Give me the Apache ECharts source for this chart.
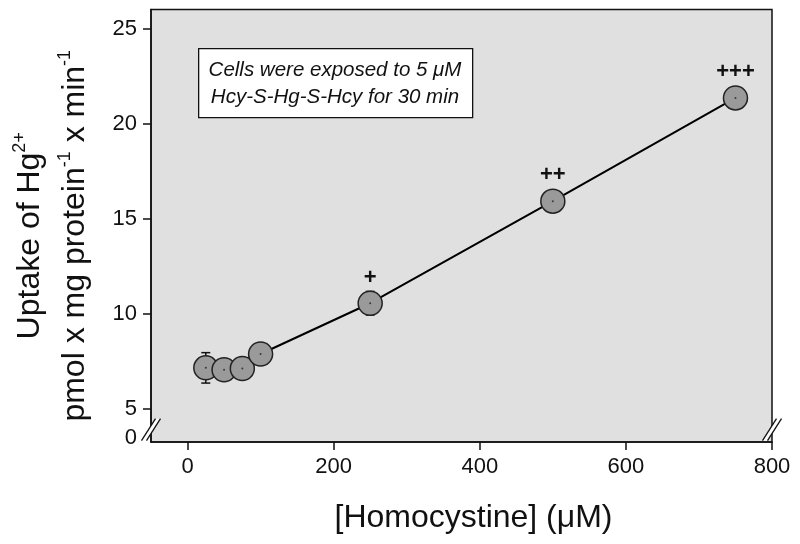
<!DOCTYPE html>
<html>
<head>
<meta charset="utf-8">
<script src="https://cdn.jsdelivr.net/npm/echarts@6/dist/echarts.min.js"></script>
<style>
  html, body { margin: 0; padding: 0; background: #ffffff; }
  #chart { width: 800px; height: 544px; }
</style>
</head>
<body>
<div id="chart"></div>
<script>
// ---- data ----
const xValues = [25, 50, 75, 100, 250, 500, 750];          // [Homocystine] (µM)
const yValues = [7.15, 7.05, 7.12, 7.88, 10.55, 15.92, 21.35]; // uptake
const yErrors = [0.8, 0.3, 0.3, 0.3, 0.62, 0.3, 0.3];
const sigMarks = ['', '', '', '', '+', '++', '+++'];
const xTicks = [0, 200, 400, 600, 800];
const yTicks = [5, 10, 15, 20, 25];
const yBreakLabel = '0';
const noteLines = ['Cells were exposed to 5 \u03bcM', 'Hcy-S-Hg-S-Hcy for 30 min'];

// ---- axis ranges / styling ----
const X_MIN = -50, X_MAX = 800;
const Y_MIN = 3.25, Y_MAX = 26;
const Y_BREAK_LABEL_AT = 3.45;
const Y_BREAK_MARK_AT = 3.9;
const FONT = '"Liberation Sans", Arial, sans-serif';

const points = xValues.map((x, i) => [x, yValues[i], yErrors[i], sigMarks[i]]);

const chart = echarts.init(document.getElementById('chart'), null, { renderer: 'canvas' });

const option = {
  backgroundColor: '#ffffff',
  animation: false,
  grid: {
    left: 151, right: 28, top: 9.5, bottom: 102,
    containLabel: false, outerBoundsMode: 'none',
    show: true, backgroundColor: '#e0e0e0',
    borderColor: '#111', borderWidth: 1.5
  },
  xAxis: {
    type: 'value', min: X_MIN, max: X_MAX,
    name: '[Homocystine] (\u03bcM)',
    nameLocation: 'middle', nameGap: 60,
    nameTextStyle: { fontFamily: FONT, fontSize: 32, color: '#111', padding: [0, 0, 0, 24] },
    axisLine: { show: true, onZero: false, lineStyle: { color: '#111', width: 1.5 } },
    axisTick: { show: true, inside: false, length: 8, customValues: xTicks, lineStyle: { color: '#111', width: 1.5 } },
    axisLabel: { customValues: xTicks, margin: 14, fontFamily: FONT, fontSize: 22, color: '#111' },
    splitLine: { show: false }
  },
  yAxis: {
    type: 'value', min: Y_MIN, max: Y_MAX,
    name: '{t|Uptake of Hg}{s|2+}\n{t|pmol x mg protein}{s|-1}{t| x min}{s|-1}',
    nameLocation: 'middle', nameGap: 53, nameRotate: 90,
    nameTextStyle: {
      fontFamily: FONT, color: '#111', padding: [0, 20, 0, 0],
      rich: {
        t: { fontFamily: FONT, fontSize: 32, color: '#111', lineHeight: 45 },
        s: { fontFamily: FONT, fontSize: 18, color: '#111', lineHeight: 18, padding: [0, 0, 21, 0] }
      }
    },
    axisLine: { show: true, onZero: false, lineStyle: { color: '#111', width: 1.5 } },
    axisTick: { show: true, inside: false, length: 8, customValues: yTicks, lineStyle: { color: '#111', width: 1.5 } },
    axisLabel: {
      customValues: [Y_BREAK_LABEL_AT].concat(yTicks),
      formatter: v => (v < yTicks[0] ? yBreakLabel : String(v)),
      margin: 14, fontFamily: FONT, fontSize: 22, color: '#111'
    },
    splitLine: { show: false }
  },
  series: [
    {
      type: 'line',
      data: points.map(p => [p[0], p[1]]),
      showSymbol: false, symbol: 'none',
      lineStyle: { color: '#000', width: 2 },
      z: 2
    },
    {
      type: 'custom',
      data: points.map(p => [p[0], p[1], p[2]]),
      renderItem: function (params, api) {
        const x = api.value(0), y = api.value(1), e = api.value(2);
        const top = api.coord([x, y + e]);
        const bot = api.coord([x, y - e]);
        const hw = 4.5;
        const st = { stroke: '#111', lineWidth: 1.5 };
        return {
          type: 'group',
          children: [
            { type: 'line', shape: { x1: top[0], y1: top[1], x2: bot[0], y2: bot[1] }, style: st },
            { type: 'line', shape: { x1: top[0] - hw, y1: top[1], x2: top[0] + hw, y2: top[1] }, style: st },
            { type: 'line', shape: { x1: bot[0] - hw, y1: bot[1], x2: bot[0] + hw, y2: bot[1] }, style: st }
          ]
        };
      },
      z: 3
    },
    {
      type: 'scatter',
      data: points.map(p => [p[0], p[1], p[3]]),
      symbol: 'circle', symbolSize: 24,
      itemStyle: { color: '#9a9a9a', borderColor: '#222', borderWidth: 1.5, opacity: 1 },
      label: {
        show: true, position: 'top', distance: 2,
        formatter: p => p.value[2],
        fontFamily: FONT, fontSize: 22, fontWeight: 'bold', color: '#111'
      },
      z: 4
    },
    {
      type: 'scatter',
      data: points.map(p => [p[0], p[1]]),
      symbol: 'circle', symbolSize: 2,
      itemStyle: { color: '#222' },
      silent: true,
      z: 5
    }
  ]
};

chart.setOption(option);

// annotation box + axis-break marks
function breakMark(cx, cy) {
  const dx = 7, dy = 11, off = 2.5;
  return [
    { type: 'polygon', shape: { points: [[cx - dx - off, cy + dy], [cx + dx - off, cy - dy], [cx + dx + off, cy - dy], [cx - dx + off, cy + dy]] },
      style: { fill: '#ffffff' }, z: 100 },
    { type: 'line', shape: { x1: cx - dx - off, y1: cy + dy, x2: cx + dx - off, y2: cy - dy }, style: { stroke: '#111', lineWidth: 1.3 }, z: 101 },
    { type: 'line', shape: { x1: cx - dx + off, y1: cy + dy, x2: cx + dx + off, y2: cy - dy }, style: { stroke: '#111', lineWidth: 1.3 }, z: 101 }
  ];
}
const leftBreak = chart.convertToPixel({ gridIndex: 0 }, [X_MIN, Y_BREAK_MARK_AT]);
const rightBreak = chart.convertToPixel({ gridIndex: 0 }, [X_MAX, Y_BREAK_MARK_AT]);

chart.setOption({
  graphic: [
    {
      type: 'rect', left: 198, top: 48, shape: { width: 274, height: 69 },
      style: { fill: '#ffffff', stroke: '#111', lineWidth: 1.3 }, z: 50
    },
    {
      type: 'text', x: 335, y: 70,
      style: { text: noteLines[0], font: 'italic 20.5px ' + FONT, fill: '#111', textAlign: 'center', textVerticalAlign: 'middle' }, z: 51
    },
    {
      type: 'text', x: 335, y: 97,
      style: { text: noteLines[1], font: 'italic 20.5px ' + FONT, fill: '#111', textAlign: 'center', textVerticalAlign: 'middle' }, z: 51
    }
  ].concat(breakMark(leftBreak[0], leftBreak[1]), breakMark(rightBreak[0], rightBreak[1]))
});
</script>
</body>
</html>
